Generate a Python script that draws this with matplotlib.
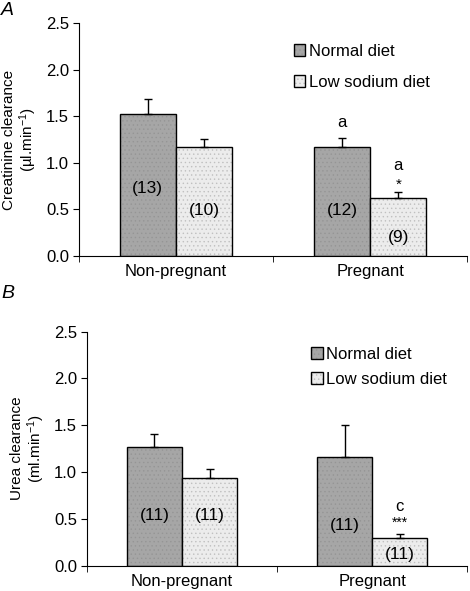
import matplotlib
matplotlib.use("Agg")
import matplotlib.pyplot as plt
import numpy as np
from matplotlib.ticker import FixedLocator

plt.rcParams['font.family'] = ['Liberation Sans', 'DejaVu Sans']
plt.rcParams['mathtext.fontset'] = 'custom'
plt.rcParams['mathtext.rm'] = 'Liberation Sans'
plt.rcParams['mathtext.it'] = 'Liberation Sans:italic'
plt.rcParams['hatch.linewidth'] = 0.5

categories = ["Non-pregnant", "Pregnant"]
series = ["Normal diet", "Low sodium diet"]

creat_normal = [1.52, 1.17]
creat_normal_err = [0.16, 0.10]
creat_low = [1.17, 0.62]
creat_low_err = [0.09, 0.07]
creat_n_normal = ["(13)", "(12)"]
creat_n_low = ["(10)", "(9)"]

urea_normal = [1.27, 1.16]
urea_normal_err = [0.14, 0.34]
urea_low = [0.94, 0.30]
urea_low_err = [0.09, 0.035]
urea_n_normal = ["(11)", "(11)"]
urea_n_low = ["(11)", "(11)"]

yticks = [0.0, 0.5, 1.0, 1.5, 2.0, 2.5]

fig = plt.figure(figsize=(4.7, 5.91), dpi=100)
axA = fig.add_axes([0.168, 0.567, 0.826, 0.394])
axB = fig.add_axes([0.185, 0.043, 0.809, 0.396])

w = 0.29
c_norm = '#a6a6a6'
c_low = '#ececec'


def panel(ax, normal, nerr, low, lerr, nn, nl, nn_y, nl_y, ylabel, leg_anchor, lspace):
    x = np.arange(len(categories))
    b1 = ax.bar(x - w / 2, normal, w, color=c_norm, edgecolor='black', linewidth=1.0,
                hatch='....', label=series[0], zorder=2)
    b2 = ax.bar(x + w / 2, low, w, color=c_low, edgecolor='black', linewidth=1.0,
                hatch='....', label=series[1], zorder=2)
    for b in b1:
        b._hatch_color = matplotlib.colors.to_rgba('#959595')
    for b in b2:
        b._hatch_color = matplotlib.colors.to_rgba('#c0c0c0')
    ax.errorbar(x - w / 2, normal, yerr=[np.zeros(len(x)), nerr], fmt='none',
                ecolor='black', elinewidth=1.0, capsize=3, capthick=1.0, zorder=3)
    ax.errorbar(x + w / 2, low, yerr=[np.zeros(len(x)), lerr], fmt='none',
                ecolor='black', elinewidth=1.0, capsize=3, capthick=1.0, zorder=3)
    for i in range(len(x)):
        ax.text(x[i] - w / 2, nn_y[i], nn[i], ha='center', va='center', fontsize=12.5, zorder=4)
        ax.text(x[i] + w / 2, nl_y[i], nl[i], ha='center', va='center', fontsize=12.5, zorder=4)
    ax.set_xlim(-0.5, 1.5)
    ax.set_ylim(0, 2.5)
    ax.set_yticks(yticks)
    ax.set_yticklabels([f"{v:.1f}" for v in yticks], fontsize=12)
    ax.set_xticks(x)
    ax.set_xticklabels(categories, fontsize=12)
    ax.tick_params(axis='x', which='major', length=0, pad=6)
    ax.xaxis.set_minor_locator(FixedLocator([-0.5, 0.5, 1.5]))
    ax.tick_params(axis='x', which='minor', length=4, direction='out')
    ax.tick_params(axis='y', length=4, direction='out', pad=3)
    ax.spines['top'].set_visible(False)
    ax.spines['right'].set_visible(False)
    ax.set_ylabel(ylabel, fontsize=11, labelpad=5, linespacing=1.1)
    ax.legend(loc='upper left', bbox_to_anchor=leg_anchor, frameon=False, fontsize=12,
              handlelength=0.7, handleheight=0.7, handletextpad=0.2,
              borderaxespad=0, borderpad=0, labelspacing=lspace)


panel(axA, creat_normal, creat_normal_err, creat_low, creat_low_err,
      creat_n_normal, creat_n_low, [0.72, 0.49], [0.49, 0.20],
      "Creatinine clearance\n(\u00b5l.min$^{-1}$)", (0.553, 0.91), 0.95)
axA.text(1 - w / 2, 1.43, "a", ha='center', va='center', fontsize=12)
axA.text(1 + w / 2, 0.97, "a", ha='center', va='center', fontsize=12)
axA.text(1 + w / 2, 0.76, "*", ha='center', va='center', fontsize=11)

panel(axB, urea_normal, urea_normal_err, urea_low, urea_low_err,
      urea_n_normal, urea_n_low, [0.53, 0.43], [0.53, 0.115],
      "Urea clearance\n(ml.min$^{-1}$)", (0.59, 0.935), 0.6)
axB.text(1 + w / 2, 0.63, "c", ha='center', va='center', fontsize=12)
axB.text(1 + w / 2, 0.46, "***", ha='center', va='center', fontsize=10)

fig.text(0.002, 0.997, "A", fontsize=14, style='italic', ha='left', va='top')
fig.text(0.002, 0.518, "B", fontsize=14, style='italic', ha='left', va='top')

fig.savefig("out.png", dpi=100)
